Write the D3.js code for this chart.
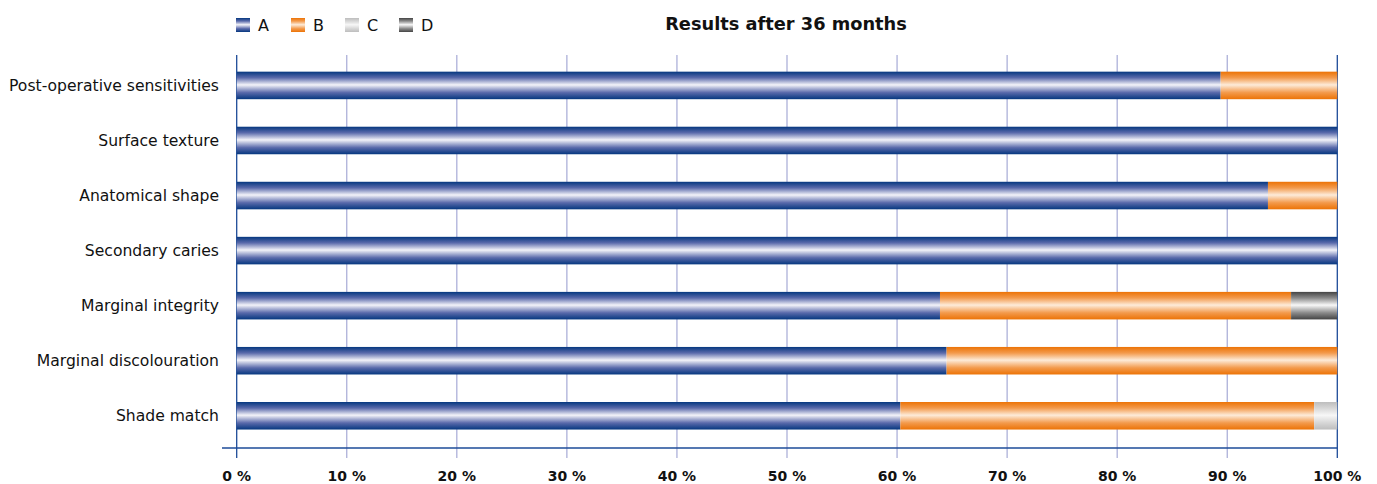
<!DOCTYPE html>
<html>
<head>
<meta charset="utf-8">
<script src="https://cdn.jsdelivr.net/npm/d3@7"></script>
<style>
  body { margin: 0; background: #fff; overflow: hidden; }
  svg { display: block; }
  svg text { font-family: "DejaVu Sans", sans-serif; fill: #111; }
</style>
</head>
<body>
<div id="chart"></div>
<script>
// Data
const categories = [
  "Post-operative sensitivities",
  "Surface texture",
  "Anatomical shape",
  "Secondary caries",
  "Marginal integrity",
  "Marginal discolouration",
  "Shade match"
];
const seriesNames = ["A", "B", "C", "D"];
const valuesA = [89.4, 100, 93.7, 100, 63.9, 64.5, 60.3];
const valuesB = [10.6, 0, 6.3, 0, 31.9, 35.5, 37.6];
const valuesC = [0, 0, 0, 0, 0, 0, 2.1];
const valuesD = [0, 0, 0, 0, 4.2, 0, 0];
const xTicks = [0, 10, 20, 30, 40, 50, 60, 70, 80, 90, 100];

const width = 1377, height = 484;
const svg = d3.select("#chart").append("svg")
    .attr("width", width)
    .attr("height", height);

// gradients: dark edges, light centre
const gradColors = {
    A: ["#05377f", "#5a6aab", "#f3f3f9"],
    B: ["#ec7306", "#f39a4c", "#fdebd9"],
    C: ["#bdbdbd", "#d6d6d6", "#f7f7f7"],
    D: ["#444444", "#8a8a8a", "#f8f8f8"]
};
const defs = svg.append("defs");
seriesNames.forEach(s => {
    const g = defs.append("linearGradient")
        .attr("id", "grad" + s)
        .attr("x1", 0).attr("y1", 0).attr("x2", 0).attr("y2", 1);
    const c = gradColors[s];
    g.append("stop").attr("offset", "0%").attr("stop-color", c[0]);
    g.append("stop").attr("offset", "22%").attr("stop-color", c[1]);
    g.append("stop").attr("offset", "48%").attr("stop-color", c[2]);
    g.append("stop").attr("offset", "76%").attr("stop-color", c[1]);
    g.append("stop").attr("offset", "100%").attr("stop-color", c[0]);
});

const x = d3.scaleLinear().domain([0, 100]).range([236.7, 1337.3]);
const y = d3.scaleBand().domain(categories)
    .range([57.9, 443.3])
    .paddingInner(0.5)
    .paddingOuter(0.25);

const gridTop = 55, axisY = 448, tickBottom = 458;

// grid lines
svg.append("g").selectAll("line")
    .data(xTicks)
    .enter().append("line")
    .attr("x1", d => x(d)).attr("x2", d => x(d))
    .attr("y1", gridTop).attr("y2", tickBottom)
    .attr("stroke", d => (d === 0 || d === 100) ? "#1d4b98" : "#a6aad6")
    .attr("stroke-width", d => (d === 0 || d === 100) ? 1.3 : 1.2);

// horizontal axis line
svg.append("line")
    .attr("x1", 222).attr("x2", x(100))
    .attr("y1", axisY).attr("y2", axisY)
    .attr("stroke", "#1d4b98")
    .attr("stroke-width", 1.3);

// stacked bars
const table = categories.map((c, i) => ({
    cat: c, A: valuesA[i], B: valuesB[i], C: valuesC[i], D: valuesD[i]
}));
const stacked = d3.stack().keys(seriesNames)(table);

svg.append("g").selectAll("g")
    .data(stacked)
    .enter().append("g")
    .attr("fill", s => `url(#grad${s.key})`)
    .selectAll("rect")
    .data(s => s.filter(d => d[1] - d[0] > 0))
    .enter().append("rect")
    .attr("x", d => x(d[0]))
    .attr("y", d => y(d.data.cat))
    .attr("width", d => x(d[1]) - x(d[0]))
    .attr("height", y.bandwidth());

// category labels
svg.append("g").selectAll("text")
    .data(categories)
    .enter().append("text")
    .attr("x", 219)
    .attr("y", d => y(d) + y.bandwidth() / 2)
    .attr("dy", "0.35em")
    .attr("text-anchor", "end")
    .style("font-size", "15.6px")
    .text(d => d);

// tick labels
svg.append("g").selectAll("text")
    .data(xTicks)
    .enter().append("text")
    .attr("x", d => x(d))
    .attr("y", 476)
    .attr("dy", "0.35em")
    .attr("text-anchor", "middle")
    .style("font-size", "14px")
    .style("font-weight", "bold")
    .text(d => d + " %");

// title
svg.append("text")
    .attr("x", 786)
    .attr("y", 24)
    .attr("dy", "0.35em")
    .attr("text-anchor", "middle")
    .style("font-size", "17.8px")
    .style("font-weight", "bold")
    .text("Results after 36 months");

// legend
const legendX = [236, 291, 345, 399];
const legend = svg.append("g").selectAll("g")
    .data(seriesNames)
    .enter().append("g")
    .attr("transform", (d, i) => `translate(${legendX[i]}, 18)`);
legend.append("rect")
    .attr("width", 14).attr("height", 14)
    .attr("fill", d => `url(#grad${d})`);
legend.append("text")
    .attr("x", 22).attr("y", 7)
    .attr("dy", "0.35em")
    .style("font-size", "16px")
    .text(d => d);
</script>
</body>
</html>
